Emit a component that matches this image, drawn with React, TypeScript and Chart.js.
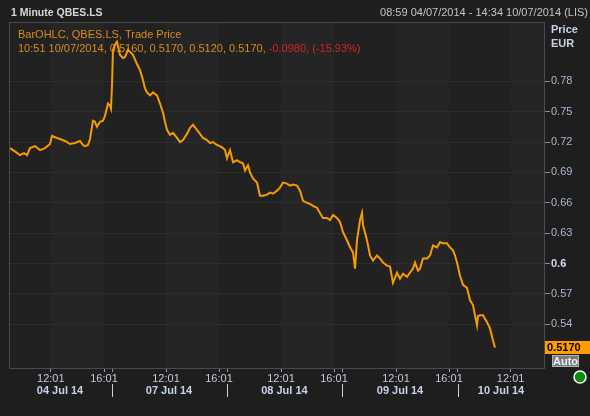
import React, { useEffect, useRef } from "react";
import { Chart, registerables } from "chart.js";

Chart.register(...registerables);

const TITLE = "1 Minute QBES.LS";
const RANGE_TEXT = "08:59 04/07/2014 - 14:34 10/07/2014 (LIS)";
const LEGEND_LINE1 = "BarOHLC, QBES.LS, Trade Price";
const LEGEND_LINE2 = "10:51 10/07/2014, 0.5160, 0.5170, 0.5120, 0.5170, ";
const LEGEND_CHANGE = "-0.0980, (-15.93%)";
const AXIS_TITLE = ["Price", "EUR"];
const LAST_PRICE = 0.517;
const LAST_PRICE_LABEL = "0.5170";

// bar index (1-minute bars, trading time) and trade price
const BAR_INDEX = [
  5, 20, 35, 55, 75, 90, 105, 130, 155, 180, 205, 215, 240, 255, 280, 305, 330, 355, 370, 380,
  395, 405, 420, 430, 440, 455, 470, 480, 495, 505, 510,
  515, 520, 530, 540, 555, 570, 580, 595, 605, 620, 640, 655, 670, 680, 690, 705, 720, 740, 755,
  770, 780, 790, 805, 820, 840, 855, 870, 890, 905, 920, 940, 955, 970, 990, 1005, 1020, 1040,
  1055, 1070, 1080,
  1090, 1105, 1120, 1140, 1155, 1170, 1180, 1195, 1205, 1220, 1240, 1255, 1270, 1290, 1305, 1320,
  1340, 1355, 1370, 1390, 1405, 1420, 1440, 1455, 1470, 1490, 1505, 1520, 1540, 1555, 1570, 1590,
  1605, 1620, 1640, 1655,
  1670, 1690, 1705, 1720, 1730, 1740, 1755, 1765, 1770, 1790, 1805, 1820, 1840, 1855, 1870, 1890,
  1905, 1920, 1940, 1955, 1970, 1990, 2005, 2020, 2030, 2045, 2055, 2070, 2090, 2105, 2120, 2140,
  2155, 2170, 2190, 2205, 2220, 2230,
  2240, 2255, 2270, 2290, 2305, 2320, 2340, 2345, 2355, 2370, 2390, 2405, 2420, 2430,
];
const PRICE = [
  0.714, 0.712, 0.710, 0.707, 0.709, 0.707, 0.714, 0.716, 0.712, 0.714, 0.718, 0.726, 0.724, 0.723,
  0.721, 0.718, 0.719, 0.721, 0.717, 0.716, 0.717, 0.723, 0.741, 0.740, 0.735, 0.740, 0.741, 0.746,
  0.758, 0.756, 0.753,
  0.776, 0.811, 0.816, 0.819, 0.806, 0.803, 0.804, 0.811, 0.809, 0.806, 0.797, 0.791, 0.781, 0.773,
  0.769, 0.766, 0.769, 0.766, 0.758, 0.749, 0.740, 0.732, 0.727, 0.729, 0.724, 0.720, 0.722, 0.728,
  0.734, 0.737, 0.732, 0.728, 0.724, 0.722, 0.719, 0.720, 0.717, 0.716, 0.714, 0.712,
  0.704, 0.712, 0.700, 0.702, 0.700, 0.699, 0.692, 0.697, 0.690, 0.684, 0.680, 0.667, 0.667, 0.668,
  0.670, 0.669, 0.672, 0.675, 0.680, 0.679, 0.677, 0.678, 0.677, 0.672, 0.662, 0.660, 0.659, 0.657,
  0.655, 0.650, 0.645, 0.645, 0.643, 0.648, 0.645, 0.641,
  0.631, 0.623, 0.616, 0.611, 0.595, 0.623, 0.643, 0.650, 0.638, 0.623, 0.608, 0.603, 0.608, 0.605,
  0.601, 0.598, 0.597, 0.581, 0.591, 0.585, 0.590, 0.587, 0.591, 0.595, 0.601, 0.593, 0.595, 0.605,
  0.605, 0.608, 0.618, 0.616, 0.621, 0.620, 0.620, 0.616, 0.613, 0.608,
  0.601, 0.588, 0.579, 0.576, 0.564, 0.559, 0.539, 0.548, 0.549, 0.549, 0.542, 0.536, 0.524, 0.517,
];

const X_MIN = 0;
const X_MAX = 2680;
const Y_MIN = 0.4969;
const Y_MAX = 0.8385;
const Y_TICKS = [0.54, 0.57, 0.6, 0.63, 0.66, 0.69, 0.72, 0.75, 0.78];
const Y_STRONG_TICK = 0.6;

const X_TICK_VALUES = [209, 475, 515, 785, 1050, 1090, 1360, 1625, 1667, 1935, 2200, 2243, 2508];
const X_TICK_LABELS = ["12:01", "16:01", "", "12:01", "16:01", "", "12:01", "16:01", "", "12:01", "16:01", "", "12:01"];
const DAY_SEPARATORS = [515, 1090, 1667, 2243];
const DAY_CENTERS = [255, 800, 1377, 1955, 2460];
const DAY_LABELS = ["04 Jul 14", "07 Jul 14", "08 Jul 14", "09 Jul 14", "10 Jul 14"];

const FONT = '"Liberation Sans", Arial, sans-serif';

const decorPlugin = {
  id: "decor",
  beforeDraw(chart: any) {
    const { ctx, chartArea: a, scales } = chart;
    const x = scales.x;
    ctx.save();
    ctx.fillStyle = "#1e1e1e";
    ctx.fillRect(0, 0, chart.width, chart.height);
    ctx.fillStyle = "#212121";
    ctx.fillRect(a.left, a.top, a.right - a.left, a.bottom - a.top);
    ctx.fillStyle = "#252525";
    for (let i = 0; i < X_TICK_VALUES.length; i++) {
      if (X_TICK_LABELS[i] !== "12:01") continue;
      const x0 = x.getPixelForValue(X_TICK_VALUES[i]);
      const nextVal = i + 1 < X_TICK_VALUES.length ? X_TICK_VALUES[i + 1] : X_MAX;
      const x1 = x.getPixelForValue(nextVal);
      ctx.fillRect(x0, a.top, x1 - x0, a.bottom - a.top);
    }
    ctx.restore();
  },
  beforeDatasetsDraw(chart: any) {
    const { ctx } = chart;
    ctx.save();
    ctx.font = `11px ${FONT}`;
    ctx.textBaseline = "middle";
    ctx.textAlign = "left";
    ctx.fillStyle = "#d98c1a";
    ctx.fillText(LEGEND_LINE1, 18, 35);
    ctx.fillText(LEGEND_LINE2, 18, 49);
    const w = ctx.measureText(LEGEND_LINE2).width;
    ctx.fillStyle = "#d42424";
    ctx.fillText(LEGEND_CHANGE, 18 + w, 49);
    ctx.restore();
  },
  afterDraw(chart: any) {
    const { ctx, chartArea: a, scales } = chart;
    const x = scales.x;
    const y = scales.y;
    ctx.save();
    // plot border
    ctx.strokeStyle = "#4a4a4a";
    ctx.lineWidth = 1;
    ctx.strokeRect(a.left + 0.5, a.top + 0.5, a.right - a.left - 1, a.bottom - a.top);
    // title + range
    ctx.textBaseline = "middle";
    ctx.font = `bold 10.5px ${FONT}`;
    ctx.fillStyle = "#d6d6d6";
    ctx.textAlign = "left";
    ctx.fillText(TITLE, 11, 13);
    ctx.font = `11px ${FONT}`;
    ctx.fillStyle = "#c4c4c4";
    ctx.textAlign = "right";
    ctx.fillText(RANGE_TEXT, 588, 13);
    // axis title
    ctx.textAlign = "left";
    ctx.font = `bold 11px ${FONT}`;
    ctx.fillStyle = "#c9d3e3";
    ctx.fillText(AXIS_TITLE[0], 551, 30);
    ctx.fillText(AXIS_TITLE[1], 551, 44);
    // day labels and separators
    ctx.textAlign = "center";
    ctx.fillStyle = "#c5d3ea";
    DAY_LABELS.forEach((lbl, i) => {
      ctx.fillText(lbl, x.getPixelForValue(DAY_CENTERS[i]), 391);
    });
    ctx.strokeStyle = "#d0d0d0";
    DAY_SEPARATORS.forEach((v) => {
      const px = Math.round(x.getPixelForValue(v)) + 0.5;
      ctx.beginPath();
      ctx.moveTo(px, 384);
      ctx.lineTo(px, 397);
      ctx.stroke();
    });
    // last price box
    const py = y.getPixelForValue(LAST_PRICE);
    ctx.fillStyle = "#ff9c00";
    ctx.fillRect(a.right, Math.round(py - 7), 590 - a.right, 13);
    ctx.fillStyle = "#000000";
    ctx.textAlign = "left";
    ctx.font = `bold 11px ${FONT}`;
    ctx.fillText(LAST_PRICE_LABEL, a.right + 2, Math.round(py - 7) + 7);
    // Auto button
    ctx.fillStyle = "#7a7a7a";
    ctx.fillRect(552, 355, 27, 12);
    ctx.strokeStyle = "#b4b4b4";
    ctx.strokeRect(552.5, 355.5, 26, 11);
    ctx.fillStyle = "#eef2f8";
    ctx.textAlign = "center";
    ctx.fillText("Auto", 565.5, 361.5);
    // status light
    ctx.beginPath();
    ctx.arc(580, 377, 6, 0, Math.PI * 2);
    ctx.fillStyle = "#0a8f0a";
    ctx.fill();
    ctx.strokeStyle = "#ffffff";
    ctx.lineWidth = 1.5;
    ctx.stroke();
    ctx.restore();
  },
};

export default function App() {
  const ref = useRef<HTMLCanvasElement>(null);
  useEffect(() => {
    document.body.style.margin = "0";
    document.body.style.background = "#1e1e1e";
    const canvas = ref.current!;
    const chart = new Chart(canvas, {
      type: "line",
      data: {
        datasets: [
          {
            data: BAR_INDEX.map((b, i) => ({ x: b, y: PRICE[i] })),
            borderColor: "#f59b00",
            borderWidth: 2,
            pointRadius: 0,
            tension: 0,
            fill: false,
          },
        ],
      },
      options: {
        responsive: false,
        animation: false,
        devicePixelRatio: 1,
        layout: { padding: { left: 9, top: 22, right: 0, bottom: 0 } },
        plugins: { legend: { display: false }, tooltip: { enabled: false } },
        scales: {
          x: {
            type: "linear",
            min: X_MIN,
            max: X_MAX,
            position: "bottom",
            afterBuildTicks: (s: any) => {
              s.ticks = X_TICK_VALUES.map((v) => ({ value: v }));
            },
            afterFit: (s: any) => {
              s.height = 48;
            },
            border: { display: false },
            grid: { drawOnChartArea: false, drawTicks: true, tickLength: 4, tickColor: "#9a9a9a" },
            ticks: {
              autoSkip: false,
              maxRotation: 0,
              padding: 0,
              color: "#c0cadb",
              font: { family: FONT, size: 11 },
              callback: (_v: any, i: number) => X_TICK_LABELS[i],
            },
          },
          y: {
            type: "linear",
            position: "right",
            min: Y_MIN,
            max: Y_MAX,
            afterBuildTicks: (s: any) => {
              s.ticks = Y_TICKS.map((v) => ({ value: v }));
            },
            afterFit: (s: any) => {
              s.width = 45;
            },
            border: { display: false },
            grid: { color: "#2d2d2d", tickLength: 5, tickColor: "#8c8c8c" },
            ticks: {
              padding: 1,
              color: (c: any) => (c.tick && Math.abs(c.tick.value - Y_STRONG_TICK) < 1e-9 ? "#cfdcf2" : "#a9b7cf"),
              font: (c: any) =>
                c.tick && Math.abs(c.tick.value - Y_STRONG_TICK) < 1e-9
                  ? { family: FONT, size: 11, weight: "bold" }
                  : { family: FONT, size: 11 },
              callback: (v: any) => (Math.abs(v - Y_STRONG_TICK) < 1e-9 ? "0.6" : Number(v).toFixed(2)),
            },
          },
        },
      },
      plugins: [decorPlugin],
    } as any);
    return () => chart.destroy();
  }, []);
  return <canvas ref={ref} width={590} height={416} style={{ display: "block", width: 590, height: 416 }} />;
}
